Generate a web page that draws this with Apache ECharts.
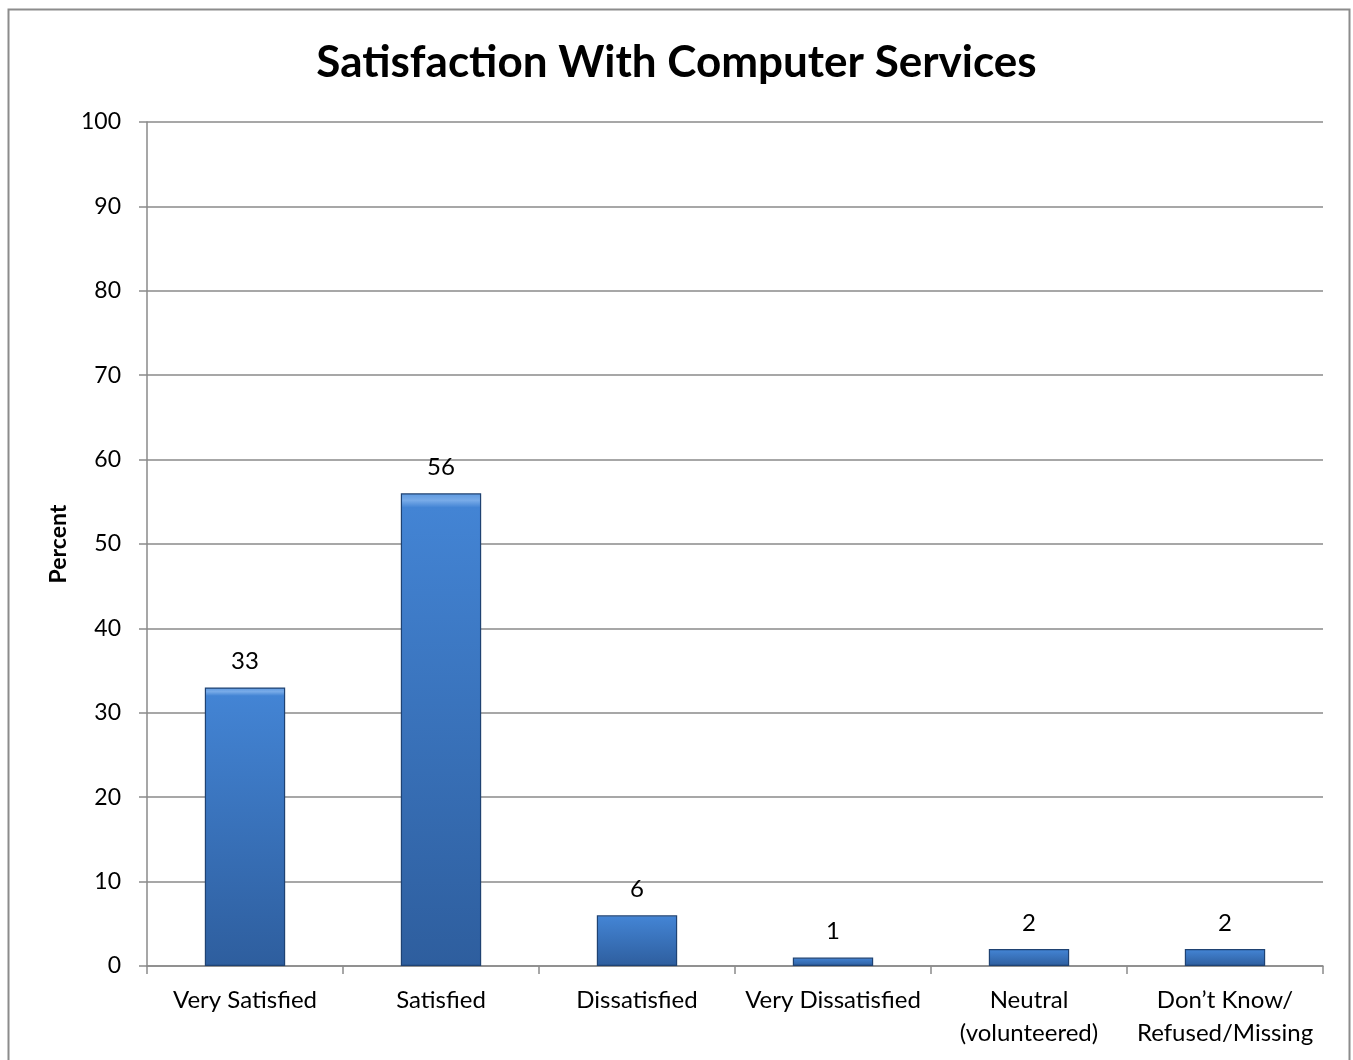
<!DOCTYPE html>
<html>
<head>
<meta charset="utf-8">
<script src="https://cdn.jsdelivr.net/npm/echarts@6/dist/echarts.min.js"></script>
<style>
  html, body { margin: 0; padding: 0; background: #fff; }
  #chart { width: 1353px; height: 1060px; }
</style>
</head>
<body>
<div id="chart"></div>
<script>
// Survey responses, percent of respondents
const categories = ['Very Satisfied', 'Satisfied', 'Dissatisfied', 'Very Dissatisfied', 'Neutral\n(volunteered)', 'Don\u2019t Know/\nRefused/Missing'];
const percents = [33, 56, 6, 1, 2, 2];
const yTicks = { min: 0, max: 100, interval: 10 };

const FONT = 'Lato, "Open Sans", sans-serif';
const gridColor = '#8a8a8a';

const chart = echarts.init(document.getElementById('chart'), null, { renderer: 'canvas' });

chart.setOption({
  backgroundColor: '#fff',
  animation: false,
  title: {
    text: 'Satisfaction With Computer Services',
    left: 'center',
    top: 36,
    textStyle: { fontFamily: FONT, fontWeight: 'bold', fontSize: 44, color: '#000' }
  },
  graphic: [{
    type: 'rect',
    shape: { x: 8.5, y: 9.5, width: 1341, height: 1100 },
    style: { fill: 'none', stroke: '#8c8c8c', lineWidth: 2 },
    silent: true
  }],
  grid: { left: 147, right: 30, top: 122, bottom: 94, containLabel: false },
  xAxis: {
    type: 'category',
    data: categories,
    axisLine: { lineStyle: { color: gridColor, width: 1.5 } },
    axisTick: { show: true, length: 8, alignWithLabel: false, lineStyle: { color: gridColor, width: 1.5 } },
    axisLabel: { fontFamily: FONT, fontSize: 24, color: '#000', margin: 18, lineHeight: 33, interval: 0 }
  },
  yAxis: {
    type: 'value',
    min: yTicks.min,
    max: yTicks.max,
    interval: yTicks.interval,
    name: 'Percent',
    nameLocation: 'middle',
    nameGap: 77,
    nameTextStyle: { fontFamily: FONT, fontWeight: 'bold', fontSize: 23, color: '#000' },
    axisLine: { show: true, lineStyle: { color: gridColor, width: 1.5 } },
    axisTick: { show: true, length: 8, lineStyle: { color: gridColor, width: 1.5 } },
    splitLine: { show: true, lineStyle: { color: gridColor, width: 1.5 } },
    axisLabel: { fontFamily: FONT, fontSize: 23, color: '#000', margin: 26 }
  },
  series: [{
    type: 'bar',
    data: percents,
    barWidth: '41%',
    itemStyle: {
      color: new echarts.graphic.LinearGradient(0, 0, 0, 1, [
        { offset: 0, color: '#5d98df' },
        { offset: 0.015, color: '#78abe8' },
        { offset: 0.03, color: '#4384d4' },
        { offset: 1, color: '#2e5e9e' }
      ]),
      borderColor: '#1f4272',
      borderWidth: 1.2
    },
    label: {
      show: true,
      position: 'top',
      distance: 14,
      fontFamily: FONT,
      fontSize: 24,
      color: '#000'
    }
  }]
});
</script>
</body>
</html>
